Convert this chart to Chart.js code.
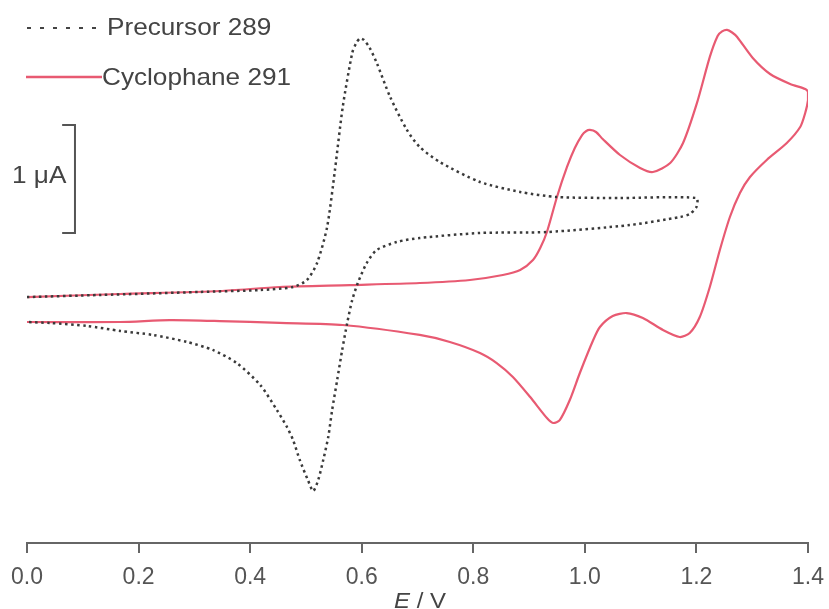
<!DOCTYPE html>
<html>
<head>
<meta charset="utf-8">
<script src="https://cdn.jsdelivr.net/npm/chart.js@4.4.1/dist/chart.umd.min.js"></script>
<style>
  html, body { margin: 0; padding: 0; background: #fff; }
  #wrap { position: relative; width: 829px; height: 609px; overflow: hidden; font-family: "Liberation Sans", Arial, sans-serif; color: #444; }
  #cv { position: absolute; left: 0; top: 0; }
  .lbl { position: absolute; font-size: 24px; line-height: 28px; white-space: nowrap; transform: scaleX(1.09); transform-origin: left center; }
  .key { position: absolute; }
</style>
</head>
<body>
<div id="wrap">
  <canvas id="cv" width="829" height="609"></canvas>

  <svg class="key" style="left:24px;top:20px" width="80" height="70">
    <line x1="3" y1="8" x2="73" y2="8" stroke="#444" stroke-width="2" stroke-dasharray="4 9"/>
    <line x1="2" y1="57" x2="78" y2="57" stroke="#e85a72" stroke-width="2.5"/>
  </svg>
  <div class="lbl" style="left:107px;top:13px">Precursor 289</div>
  <div class="lbl" style="left:102px;top:63px">Cyclophane 291</div>
  <div class="lbl" style="left:12px;top:161px">1 μA</div>
  <div class="lbl" style="left:394px;top:587px;font-size:22px"><i>E</i> / V</div>
</div>

<script>
// potentials (V) and currents (uA, arbitrary zero), forward scan then reverse scan
let precursorE = [0, 0.131, 0.310, 0.418, 0.477, 0.502, 0.520, 0.538, 0.552, 0.566,
  0.583, 0.590, 0.597, 0.604, 0.614, 0.627, 0.651, 0.681, 0.704, 0.740, 0.812, 0.884, 0.950, 1.063, 1.200,
  1.200, 1.188, 1.171, 1.081, 0.932, 0.812, 0.704, 0.663, 0.627, 0.609,
  0.593, 0.583, 0.574, 0.565, 0.556, 0.547, 0.540, 0.531, 0.522, 0.513,
  0.504, 0.489, 0.477, 0.466, 0.448, 0.418, 0.376, 0.333, 0.287, 0.226, 0.167, 0.108, 0.041, 0]
let precursorI = [0.120, 0.139, 0.167, 0.185, 0.213, 0.278, 0.435, 0.769, 1.296, 1.880,
  2.380, 2.470, 2.515, 2.500, 2.430, 2.287, 1.972, 1.667, 1.509, 1.370, 1.185, 1.093, 1.046, 1.037, 1.037,
  0.954, 0.889, 0.861, 0.787, 0.722, 0.713, 0.667, 0.630, 0.556, 0.435,
  0.250, 0.093, -0.120, -0.370, -0.648, -0.926, -1.176, -1.389, -1.574, -1.676,
  -1.580, -1.389, -1.204, -1.083, -0.926, -0.694, -0.491, -0.370, -0.296, -0.231, -0.194, -0.148, -0.120, -0.111]

let cycloE = [0, 0.167, 0.346, 0.453, 0.579, 0.704, 0.794, 0.853, 0.884, 0.907,
  0.920, 0.932, 0.950, 0.968, 0.982, 0.995, 1.002, 1.009, 1.020, 1.032, 1.063, 1.099,
  1.122, 1.153, 1.176, 1.201, 1.224, 1.238, 1.246, 1.255, 1.264, 1.273, 1.301, 1.332, 1.368, 1.395, 1.400,
  1.400, 1.395, 1.386, 1.362, 1.326, 1.296, 1.278, 1.260, 1.242, 1.224,
  1.206, 1.188, 1.170, 1.140, 1.104, 1.075, 1.050, 1.027, 1.015, 0.991,
  0.973, 0.955, 0.943, 0.932, 0.902, 0.871, 0.842, 0.812, 0.758, 0.704, 0.566, 0.453, 0.346, 0.256, 0.167, 0]
let cycloI = [0.120, 0.148, 0.176, 0.213, 0.231, 0.250, 0.278, 0.324, 0.370, 0.463,
  0.574, 0.722, 1.046, 1.324, 1.500, 1.620, 1.655, 1.667, 1.648, 1.583, 1.435, 1.315,
  1.278, 1.361, 1.546, 1.917, 2.343, 2.537, 2.579, 2.593, 2.569, 2.528, 2.333, 2.185, 2.093, 2.046, 2.019,
  1.944, 1.824, 1.694, 1.546, 1.389, 1.231, 1.083, 0.861, 0.556, 0.213,
  -0.065, -0.213, -0.250, -0.185, -0.074, -0.028, -0.056, -0.157, -0.278, -0.583,
  -0.833, -1.019, -1.046, -1.000, -0.806, -0.620, -0.491, -0.398, -0.296, -0.231, -0.139, -0.120, -0.102, -0.093, -0.111, -0.111]

// 1 uA scale bar
let barE = [0.063, 0.086, 0.086, 0.063]
let barI = [1.713, 1.713, 0.713, 0.713]

let xTicks = [0, 0.2, 0.4, 0.6, 0.8, 1.0, 1.2, 1.4]

function pts(xs, ys) {
  return xs.map((x, i) => ({ x: x, y: ys[i] }))
}

let chart = new Chart(document.getElementById('cv'), {
  type: 'scatter',
  data: {
    datasets: [{
      label: 'Precursor 289',
      data: pts(precursorE, precursorI),
      showLine: true,
      borderColor: '#3a3a3a',
      borderWidth: 2.5,
      borderDash: [2.5, 3.5],
      pointRadius: 0,
      tension: 0.25
    }, {
      label: 'Cyclophane 291',
      data: pts(cycloE, cycloI),
      showLine: true,
      borderColor: '#e85a72',
      borderWidth: 2.2,
      pointRadius: 0,
      tension: 0.25
    }, {
      label: 'scale',
      data: pts(barE, barI),
      showLine: true,
      borderColor: '#555',
      borderWidth: 2,
      pointRadius: 0,
      tension: 0
    }]
  },
  options: {
    responsive: false,
    devicePixelRatio: 1,
    animation: false,
    layout: { padding: { left: 27, right: 21, top: 0, bottom: 0 } },
    plugins: {
      legend: { display: false },
      tooltip: { enabled: false }
    },
    scales: {
      x: {
        type: 'linear',
        min: 0,
        max: 1.4,
        afterFit: function(s) {
          s.height = 66
          s.paddingLeft = 0
          s.paddingRight = 0
        },
        afterBuildTicks: function(s) { s.ticks = xTicks.map(v => ({ value: v })) },
        ticks: {
          callback: v => v.toFixed(1),
          color: '#555',
          font: { family: 'Liberation Sans', size: 23 },
          padding: 11,
          maxRotation: 0
        },
        grid: { drawOnChartArea: false, drawTicks: true, tickLength: 10, color: '#666', lineWidth: 2 },
        border: { display: true, color: '#666', width: 2 }
      },
      y: {
        display: false,
        min: -2.157,
        max: 2.870
      }
    }
  }
})
</script>
</body>
</html>
